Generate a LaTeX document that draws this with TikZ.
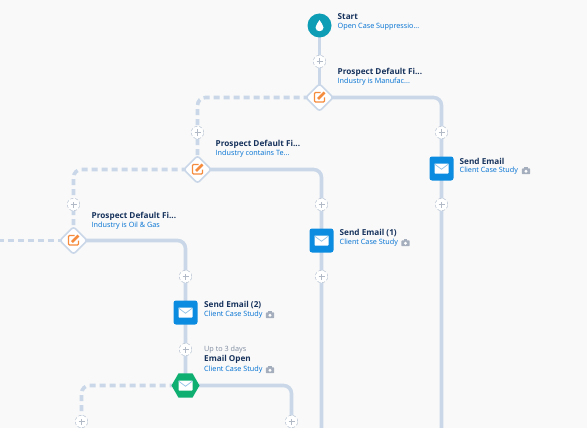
\documentclass[tikz,border=0pt]{standalone}
\usepackage{fontspec}
\setmainfont{Open Sans}
\usetikzlibrary{shapes.geometric,backgrounds}
\definecolor{bgc}{HTML}{F9F9F9}
\definecolor{linec}{HTML}{C9D7E8}
\definecolor{navy}{HTML}{16325C}
\definecolor{linkc}{HTML}{0070D2}
\definecolor{grayt}{HTML}{7E8BA0}
\definecolor{mailblue}{HTML}{0B8CE0}
\definecolor{hexgreen}{HTML}{0FAF72}
\definecolor{teal}{HTML}{0D9DB5}
\definecolor{orangec}{HTML}{F58B3C}
\tikzset{
  conn/.style={draw=linec,line width=3.6pt,rounded corners=8pt},
  dconn/.style={conn,dash pattern=on 6pt off 4pt},
  plusn/.style={circle,draw=linec!80!gray,densely dashed,line width=.5pt,fill=white,minimum size=12.5pt,inner sep=0pt},
  dia/.style={diamond,draw=linec,line width=1.6pt,fill=white,minimum size=28pt,inner sep=0pt,rounded corners=2.5pt},
  mailn/.style={rectangle,fill=mailblue,rounded corners=2.5pt,minimum size=24pt,inner sep=0pt},
  hexn/.style={regular polygon,regular polygon sides=6,fill=hexgreen,minimum size=28pt,inner sep=0pt},
  startn/.style={circle,fill=teal,minimum size=24pt,inner sep=0pt},
  ttl/.style={anchor=west,inner sep=0pt,text=navy,font=\fontsize{8.2}{10}\selectfont\bfseries},
  sub/.style={anchor=west,inner sep=0pt,text=linkc,font=\fontsize{7.25}{9}\selectfont},
  note/.style={anchor=west,inner sep=0pt,text=grayt,font=\fontsize{7.25}{9}\selectfont},
}
\newcommand{\plusat}[2]{\node[plusn] (#1) at (#2) {};
  \draw[grayt!60,line width=.9pt] ([xshift=-3pt]#1.center) -- ([xshift=3pt]#1.center) ([yshift=-3pt]#1.center) -- ([yshift=3pt]#1.center);}
\newcommand{\envat}[1]{%
  \fill[white,rounded corners=.6pt] ([shift={(-7,-5)}]#1.center) rectangle ([shift={(7,5)}]#1.center);
  \draw[linec!70!mailblue,line width=.7pt] ([shift={(-7,-4.5)}]#1.center) -- ([shift={(0,.8)}]#1.center) -- ([shift={(7,-4.5)}]#1.center);}
\newcommand{\penat}[1]{%
  \draw[orangec,line width=1.2pt,rounded corners=1pt] ([shift={(1,-5)}]#1.center) -- ([shift={(-5,-5)}]#1.center) -- ([shift={(-5,4.5)}]#1.center) -- ([shift={(5,4.5)}]#1.center) -- ([shift={(5,0)}]#1.center);
  \draw[orangec,line width=2.6pt] ([shift={(-1.5,1.5)}]#1.center) -- ([shift={(5,-5)}]#1.center);}
\newcommand{\camat}[1]{%
  \fill[grayt!70,rounded corners=.8pt] ([shift={(-4.2,-2.6)}]#1) rectangle ([shift={(4.2,3.2)}]#1);
  \fill[grayt!70] ([shift={(-1.8,-3.8)}]#1) rectangle ([shift={(1.8,-2)}]#1);
  \fill[white] ([shift={(0,.3)}]#1) circle (1.6pt);}
\begin{document}
\begin{tikzpicture}[x=1pt,y=-1pt]
\useasboundingbox (0,0) rectangle (587,428);
\begin{scope}[shift={(0.5,0.5)}]
% nodes
\node[startn] (st) at (319,25) {};
\fill[white] (319,19.5) .. controls (320.5,22.5) and (323,24.5) .. (323,27) .. controls (323,32) and (315,32) .. (315,27) .. controls (315,24.5) and (317.5,22.5) .. (319,19.5) -- cycle;
\plusat{p1}{319,61}
\node[dia] (d1) at (319,97) {}; \penat{d1}
\plusat{p2}{441,132}
\node[mailn] (m1) at (441,168) {}; \envat{m1}
\plusat{p3}{441,204}
\plusat{p4}{197,132}
\node[dia] (d2) at (197,169) {}; \penat{d2}
\plusat{p5}{321,204}
\node[mailn] (m2) at (321,240) {}; \envat{m2}
\plusat{p6}{321,276}
\plusat{p7}{73,204}
\node[dia] (d3) at (73,240) {}; \penat{d3}
\plusat{p8}{185,276}
\node[mailn] (m3) at (185,312) {}; \envat{m3}
\plusat{p9}{185,349}
\node[hexn] (h1) at (185,385) {}; \envat{h1}
\plusat{p10}{291,421}
\plusat{p11}{81,421}
\coordinate (e1) at (441,430);
\coordinate (e2) at (321,430);
\coordinate (e3) at (291,430);
\coordinate (e4) at (81,430);
\coordinate (e5) at (-2,240);
% connectors
\begin{scope}[on background layer]
\fill[bgc] (-2,-2) rectangle (589,430);
\draw[conn] (st.center) -- (p1.center) -- (d1.center);
\draw[conn] (d1.center) -| (p2.center) -- (m1.center) -- (p3.center) -- (e1);
\draw[dconn] (d1.center) -| (p4.center) -- (d2.center);
\draw[conn] (d2.center) -| (p5.center) -- (m2.center) -- (p6.center) -- (e2);
\draw[dconn] (d2.center) -| (p7.center) -- (d3.center);
\draw[conn] (d3.center) -| (p8.center) -- (m3.center) -- (p9.center) -- (h1.center);
\draw[dconn] (d3.center) -- (e5);
\draw[conn] (h1.center) -| (p10.center) -- (e3);
\draw[dconn] (h1.center) -| (p11.center) -- (e4);
\end{scope}
% labels
\node[ttl] (t1) at (337,16.5) {Start};
\node[sub] (s1) at (337,26.5) {Open Case Suppressio...};
\node[ttl] (t2) at (337,71.5) {Prospect Default Fi...};
\node[sub] (s2) at (337,81.5) {Industry is Manufac...};
\node[ttl] (t3) at (215,143.5) {Prospect Default Fi...};
\node[sub] (s3) at (215,153.5) {Industry contains Te...};
\node[ttl] (t4) at (91,215.5) {Prospect Default Fi...};
\node[sub] (s4) at (91,225.5) {Industry is Oil \& Gas};
\node[ttl] (t5) at (459,160.5) {Send Email};
\node[sub] (s5) at (459,170.5) {Client Case Study};
\camat{525.5,170.5}
\node[ttl] (t6) at (339,232.5) {Send Email (1)};
\node[sub] (s6) at (339,242.5) {Client Case Study};
\camat{405,242.5}
\node[ttl] (t7) at (203.5,304.5) {Send Email (2)};
\node[sub] (s7) at (203.5,314.5) {Client Case Study};
\camat{269.5,314.5}
\node[note] (n8) at (203.5,349.5) {Up to 3 days};
\node[ttl] (t8) at (203.5,359) {Email Open};
\node[sub] (s8) at (203.5,369.5) {Client Case Study};
\camat{269.5,369.5}
\end{scope}
\end{tikzpicture}
\end{document}
